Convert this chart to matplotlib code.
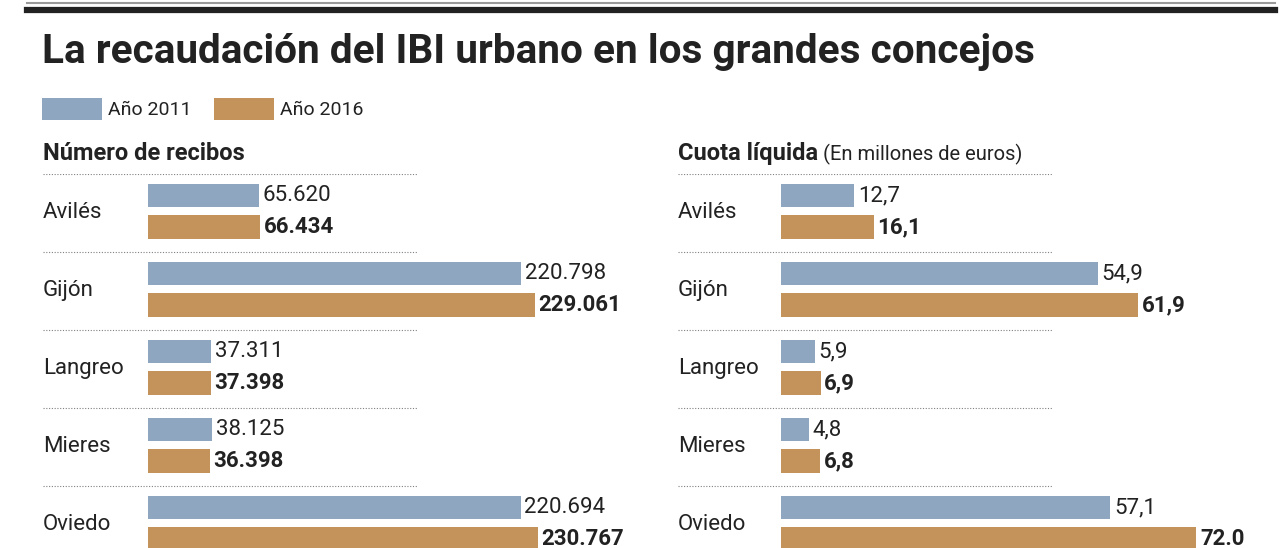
import matplotlib
matplotlib.use('Agg')
import matplotlib.pyplot as plt
from matplotlib import font_manager
from matplotlib.patches import Rectangle
from matplotlib.lines import Line2D

# data
concejos = ['Avilés', 'Gijón', 'Langreo', 'Mieres', 'Oviedo']
recibos_2011 = [65620, 220798, 37311, 38125, 220694]
recibos_2016 = [66434, 229061, 37398, 36398, 230767]
cuota_2011 = [12.7, 54.9, 5.9, 4.8, 57.1]
cuota_2016 = [16.1, 61.9, 6.9, 6.8, 72.0]
# labels as printed in the original (Oviedo 2016 uses a point)
recibos_2011_txt = ['65.620', '220.798', '37.311', '38.125', '220.694']
recibos_2016_txt = ['66.434', '229.061', '37.398', '36.398', '230.767']
cuota_2011_txt = ['12,7', '54,9', '5,9', '4,8', '57,1']
cuota_2016_txt = ['16,1', '61,9', '6,9', '6,8', '72.0']
series_names = ['Año 2011', 'Año 2016']

BLUE = '#8fa6c1'
BROWN = '#c4925b'
INK = '#222222'
W, H = 1280, 548

# pick a narrow font if there is one
names = set(f.name for f in font_manager.fontManager.ttflist)
family = 'DejaVu Sans'
for cand in ['Liberation Sans Narrow', 'DejaVu Sans Condensed', 'Roboto', 'Open Sans']:
    if cand in names:
        family = cand
        break
plt.rcParams['font.family'] = [family, 'DejaVu Sans']
plt.rcParams['text.color'] = INK


def fx(x):
    return x / W


def fy(y):
    return 1 - y / H


fig = plt.figure(figsize=(12.8, 5.48), dpi=100)

# rules on top
fig.add_artist(Line2D([fx(27), fx(1275)], [fy(3), fy(3)], color='#9a9a9a', lw=1.5))
fig.add_artist(Line2D([fx(27), fx(1275)], [fy(10), fy(10)], color=INK, lw=4.5))

fig.text(fx(42), fy(63), 'La recaudación del IBI urbano en los grandes concejos',
         fontsize=29.2, fontweight='bold', va='baseline', ha='left')

# legend
for (x0, x1, tx), col, name in zip([(42, 102, 108), (214, 274, 280)], [BLUE, BROWN], series_names):
    fig.add_artist(Rectangle((fx(x0), fy(120)), fx(x1) - fx(x0), fy(98) - fy(120),
                             transform=fig.transFigure, color=col, lw=0))
    fig.text(fx(tx), fy(110), name, fontsize=14, va='center', ha='left')

row_h = 78
top = 174


def panel(left_px, bar0_px, sep_end_px, ppu, v11, v16, t11, t16):
    ax_w = 560
    ax = fig.add_axes([fx(left_px), fy(top + 5 * row_h), ax_w / W, 5 * row_h / H])
    ax.set_xlim((left_px - bar0_px) / ppu, (left_px + ax_w - bar0_px) / ppu)
    ax.set_ylim(5, 0)
    ax.axis('off')
    ys = range(len(concejos))
    y11 = [i + 21.5 / row_h for i in ys]
    y16 = [i + 53 / row_h for i in ys]
    bh = 23.5 / row_h
    ax.barh(y11, v11, height=bh, color=BLUE, lw=0)
    ax.barh(y16, v16, height=bh, color=BROWN, lw=0)
    for i in ys:
        ax.axhline(i, xmin=0, xmax=(sep_end_px - left_px) / ax_w, color='#808080',
                   lw=0.8, ls=(0, (1, 1.5)))
        ax.text(0, i + 0.49, concejos[i], transform=ax.get_yaxis_transform(),
                fontsize=16, va='center', ha='left')
        ax.annotate(t11[i], (v11[i], y11[i]), xytext=(2.5, 0), textcoords='offset points',
                    fontsize=16, va='center', ha='left')
        ax.annotate(t16[i], (v16[i], y16[i]), xytext=(2.5, 0), textcoords='offset points',
                    fontsize=16, va='center', ha='left', fontweight='bold')
    return ax


panel(43, 148, 418, 0.00169, recibos_2011, recibos_2016, recibos_2011_txt, recibos_2016_txt)
panel(678, 781, 1052, 5.77, cuota_2011, cuota_2016, cuota_2011_txt, cuota_2016_txt)

fig.text(fx(43), fy(160), 'Número de recibos', fontsize=17, fontweight='bold',
         va='baseline', ha='left')
t = fig.text(fx(678), fy(160), 'Cuota líquida', fontsize=17, fontweight='bold',
             va='baseline', ha='left')
fig.canvas.draw()
bb = t.get_window_extent()
fig.text(bb.x1 / W + fx(5), fy(160), '(En millones de euros)', fontsize=14.5,
         va='baseline', ha='left')

fig.savefig('out.png', dpi=100)
